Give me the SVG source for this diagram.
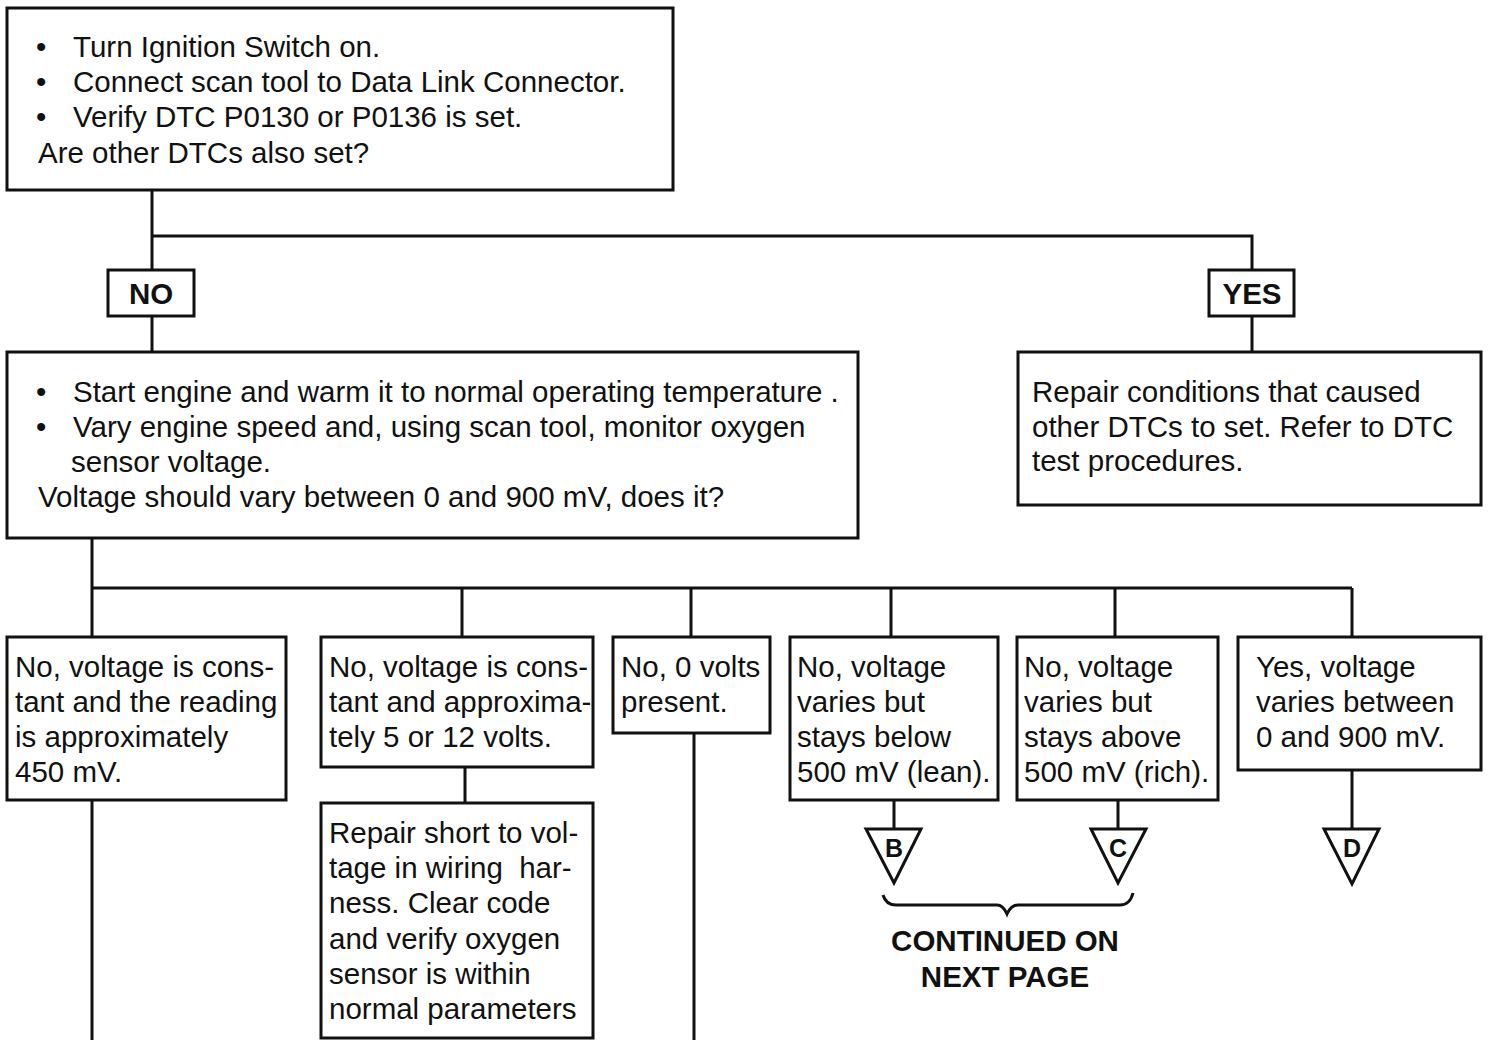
<svg xmlns="http://www.w3.org/2000/svg" width="1490" height="1040" viewBox="0 0 1490 1040">
<style>
.box{fill:#fff;stroke:#111;stroke-width:3}
.ln{fill:none;stroke:#111;stroke-width:3}
.t{font-family:"Liberation Sans",Arial,Helvetica,sans-serif;font-size:29.5px;fill:#111}
.b{font-family:"Liberation Sans",Arial,Helvetica,sans-serif;font-size:29.5px;font-weight:bold;fill:#111;text-anchor:middle}
.tri{fill:#fff;stroke:#111;stroke-width:3;stroke-linejoin:miter}
.tl{font-family:"Liberation Sans",Arial,Helvetica,sans-serif;font-size:25px;font-weight:bold;fill:#111;text-anchor:middle}
</style>
<rect width="1490" height="1040" fill="#fff"/>
<g id="connectors">
<path class="ln" d="M152,190 V352 M152,236 H1252 V352"/>
<path class="ln" d="M92,538 V637 M92,588 H1352 M462,588 V637 M691,588 V637 M891,588 V637 M1115,588 V637 M1352,588 V637"/>
<path class="ln" d="M92,800 V1040 M465,767 V803 M694,733 V1040"/>
<path class="ln" d="M894,800 V829 M1118,800 V829 M1352,770 V829"/>
<path class="ln" d="M883,895 Q886,905 896,905 L997,905 Q1003,905 1007,914 Q1011,905 1018,905 L1120,905 Q1130,905 1133,893"/>
</g>
<g id="n_start">
<rect class="box" x="7" y="8" width="666" height="182"/>
<text class="t" x="36" y="57">•</text><text class="t" x="73" y="57">Turn Ignition Switch on.</text>
<text class="t" x="36" y="92">•</text><text class="t" x="73" y="92">Connect scan tool to Data Link Connector.</text>
<text class="t" x="36" y="127">•</text><text class="t" x="73" y="127">Verify DTC P0130 or P0136 is set.</text>
<text class="t" x="38" y="163">Are other DTCs also set?</text>
</g>
<g id="n_no">
<rect class="box" x="108" y="270" width="86" height="46"/>
<text class="b" x="151" y="304">NO</text>
</g>
<g id="n_yes">
<rect class="box" x="1209" y="270" width="85" height="46"/>
<text class="b" x="1252" y="304">YES</text>
</g>
<g id="n_check">
<rect class="box" x="7" y="352" width="851" height="186"/>
<text class="t" x="36" y="402">•</text><text class="t" x="73" y="402">Start engine and warm it to normal operating temperature .</text>
<text class="t" x="36" y="437">•</text><text class="t" x="73" y="437">Vary engine speed and, using scan tool, monitor oxygen</text>
<text class="t" x="71" y="472">sensor voltage.</text>
<text class="t" x="38" y="507">Voltage should vary between 0 and 900 mV, does it?</text>
</g>
<g id="n_repair_other">
<rect class="box" x="1018" y="352" width="463" height="153"/>
<text class="t" x="1032" y="402">Repair conditions that caused</text>
<text class="t" x="1032" y="437">other DTCs to set. Refer to DTC</text>
<text class="t" x="1032" y="471">test procedures.</text>
</g>
<g id="n_450">
<rect class="box" x="7" y="637" width="279" height="163"/>
<text class="t" x="15" y="677">No, voltage is cons-</text>
<text class="t" x="15" y="712">tant and the reading</text>
<text class="t" x="15" y="747">is approximately</text>
<text class="t" x="15" y="782">450 mV.</text>
</g>
<g id="n_5or12">
<rect class="box" x="321" y="637" width="272" height="130"/>
<text class="t" x="329" y="677">No, voltage is cons-</text>
<text class="t" x="329" y="712">tant and approxima-</text>
<text class="t" x="329" y="747">tely 5 or 12 volts.</text>
</g>
<g id="n_repair_short">
<rect class="box" x="321" y="803" width="272" height="235"/>
<text class="t" x="329" y="843">Repair short to vol-</text>
<text class="t" x="329" y="878" xml:space="preserve">tage in wiring  har-</text>
<text class="t" x="329" y="913">ness. Clear code</text>
<text class="t" x="329" y="949">and verify oxygen</text>
<text class="t" x="329" y="984">sensor is within</text>
<text class="t" x="329" y="1019">normal parameters</text>
</g>
<g id="n_0v">
<rect class="box" x="613" y="637" width="157" height="96"/>
<text class="t" x="621" y="677">No, 0 volts</text>
<text class="t" x="621" y="712">present.</text>
</g>
<g id="n_lean">
<rect class="box" x="790" y="637" width="208" height="163"/>
<text class="t" x="797" y="677">No, voltage</text>
<text class="t" x="797" y="712">varies but</text>
<text class="t" x="797" y="747">stays below</text>
<text class="t" x="797" y="782">500 mV (lean).</text>
</g>
<g id="n_rich">
<rect class="box" x="1017" y="637" width="201" height="163"/>
<text class="t" x="1024" y="677">No, voltage</text>
<text class="t" x="1024" y="712">varies but</text>
<text class="t" x="1024" y="747">stays above</text>
<text class="t" x="1024" y="782">500 mV (rich).</text>
</g>
<g id="n_ok">
<rect class="box" x="1238" y="637" width="243" height="133"/>
<text class="t" x="1256" y="677">Yes, voltage</text>
<text class="t" x="1256" y="712">varies between</text>
<text class="t" x="1256" y="747">0 and 900 mV.</text>
</g>
<g id="n_B">
<polygon class="tri" points="866,829 921,829 894,883"/>
<text class="tl" x="894" y="857">B</text>
</g>
<g id="n_C">
<polygon class="tri" points="1091,829 1146,829 1118,883"/>
<text class="tl" x="1118" y="857">C</text>
</g>
<g id="n_D">
<polygon class="tri" points="1324,829 1379,829 1352,884"/>
<text class="tl" x="1352" y="857">D</text>
</g>
<g id="n_continued">
<text class="b" x="1005" y="951">CONTINUED ON</text>
<text class="b" x="1005" y="987">NEXT PAGE</text>
</g>
</svg>
